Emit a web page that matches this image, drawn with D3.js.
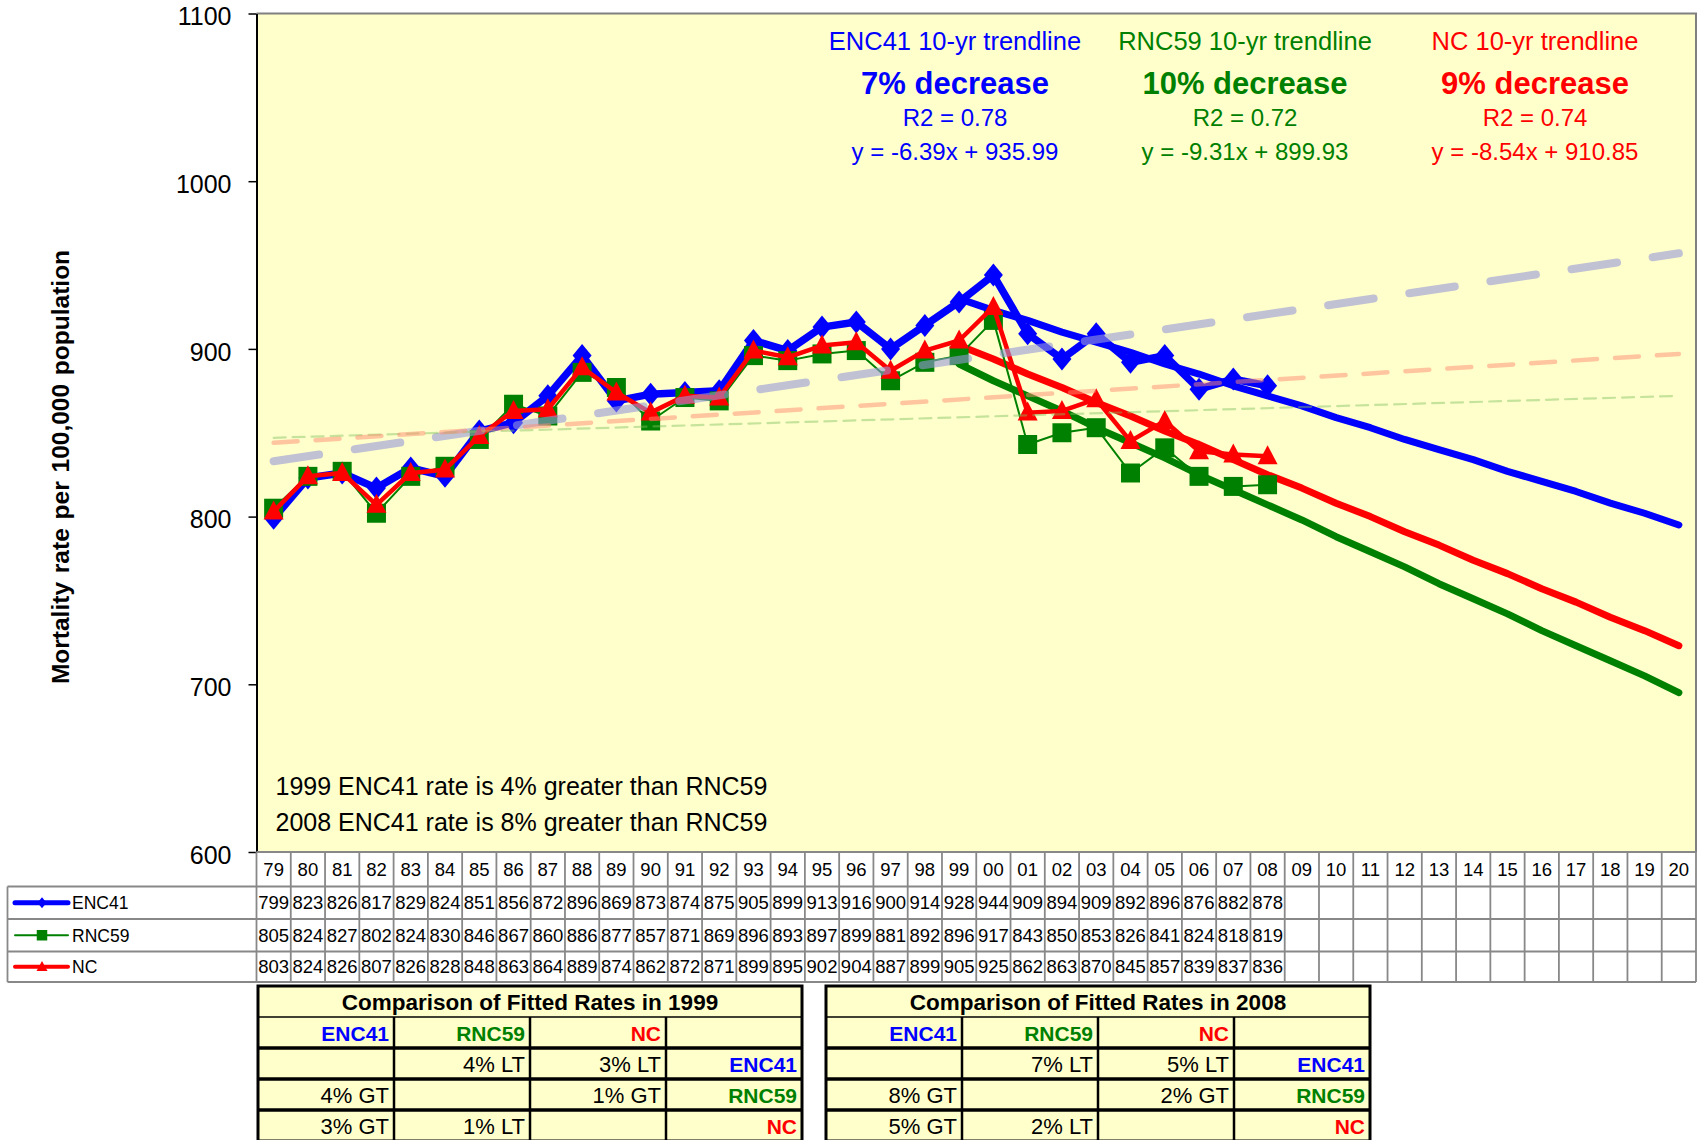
<!DOCTYPE html>
<html>
<head>
<meta charset="utf-8">
<script src="https://cdn.jsdelivr.net/npm/d3@7"></script>
<style>
  body { margin: 0; background: #fff; }
  svg text { font-family: "Liberation Sans", Arial, sans-serif; }
</style>
</head>
<body>
<svg id="chart" width="1700" height="1140"></svg>
<script>
// categories (year, 2 digits)
var years = ["79","80","81","82","83","84","85","86","87","88","89","90","91","92","93","94","95","96","97","98","99",
             "00","01","02","03","04","05","06","07","08","09","10","11","12","13","14","15","16","17","18","19","20"];

// observed rates, 1979-2008
var enc41 = [799,823,826,817,829,824,851,856,872,896,869,873,874,875,905,899,913,916,900,914,928,944,909,894,909,892,896,876,882,878];
var rnc59 = [805,824,827,802,824,830,846,867,860,886,877,857,871,869,896,893,897,899,881,892,896,917,843,850,853,826,841,824,818,819];
var nc    = [803,824,826,807,826,828,848,863,864,889,874,862,872,871,899,895,902,904,887,899,905,925,862,863,870,845,857,839,837,836];

// 10-yr trendlines, 1999-2020
var trendYears = ["99","00","01","02","03","04","05","06","07","08","09","10","11","12","13","14","15","16","17","18","19","20"];
var enc41Trend = [930,923,917,910,904,898,891,885,878,872,866,859,853,846,840,834,827,821,815,808,802,795];
var rnc59Trend = [891,881,872,863,853,844,835,825,816,807,798,788,779,770,760,751,742,732,723,714,705,695];
var ncTrend    = [902,894,885,877,868,860,851,843,834,825,817,808,800,791,783,774,766,757,749,740,732,723];

// long-term trendlines, value at 79 and at 20
var longYears = ["79","20"];
var enc41Long = [833,957];
var rnc59Long = [847,872];
var ncLong    = [844,897];

var yTicks = [600,700,800,900,1000,1100];

var trendLabels = ["ENC41 10-yr trendline","RNC59 10-yr trendline","NC 10-yr trendline"];
var trendChange = ["7% decrease","10% decrease","9% decrease"];
var trendR2     = ["R2 = 0.78","R2 = 0.72","R2 = 0.74"];
var trendEq     = ["y = -6.39x + 935.99","y = -9.31x + 899.93","y = -8.54x + 910.85"];

var notes = ["1999 ENC41 rate is 4% greater than RNC59","2008 ENC41 rate is 8% greater than RNC59"];

var cmpTitles = ["Comparison of Fitted Rates in 1999","Comparison of Fitted Rates in 2008"];
var cmpHeader = ["ENC41","RNC59","NC",""];
var cmp1999 = [["","4% LT","3% LT","ENC41"],["4% GT","","1% GT","RNC59"],["3% GT","1% LT","","NC"]];
var cmp2008 = [["","7% LT","5% LT","ENC41"],["8% GT","","2% GT","RNC59"],["5% GT","2% LT","","NC"]];

var blue = "#0000FF", green = "#008000", red = "#FF0000";
var nameColor = {"ENC41": blue, "RNC59": green, "NC": red};

//marker shapes
function diamond(w, h) { return "M0," + (-h/2) + "L" + (w/2) + ",0L0," + (h/2) + "L" + (-w/2) + ",0Z"; }
function square(s) { return "M" + (-s/2) + "," + (-s/2) + "h" + s + "v" + s + "h" + (-s) + "Z"; }
function triangle(w, h) { return "M0," + (-h*0.58) + "L" + (w/2) + "," + (h*0.42) + "L" + (-w/2) + "," + (h*0.42) + "Z"; }

var series = [
  {name: "ENC41", values: enc41, trend: enc41Trend, long: enc41Long, color: blue,  width: 7.5, marker: diamond(19,23), key: diamond(9,11), keyW: 5},
  {name: "RNC59", values: rnc59, trend: rnc59Trend, long: rnc59Long, color: green, width: 2,   marker: square(19),     key: square(10.5),  keyW: 2},
  {name: "NC",    values: nc,    trend: ncTrend,    long: ncLong,    color: red,   width: 4.5, marker: triangle(20,19), key: triangle(11,10), keyW: 4}
];

var pLeft = 256.5, pRight = 1696, pTop = 13.5, pBottom = 852;

var svg = d3.select("#chart");

var x = d3.scaleBand().domain(years).range([pLeft, pRight]);
var y = d3.scaleLinear().domain([600, 1100]).range([pBottom, pTop]);
function cx(d) { return x(d) + x.bandwidth() / 2; }

//plot area
svg.append("rect")
  .attr("x", pLeft).attr("y", pTop)
  .attr("width", pRight - pLeft).attr("height", pBottom - pTop)
  .attr("fill", "#FFFFCC");
svg.append("path")
  .attr("d", "M" + pLeft + "," + pTop + "H" + pRight + "V" + pBottom)
  .attr("fill", "none").attr("stroke", "#808080").attr("stroke-width", 2);

//y axis
var yAxis = svg.append("g")
  .attr("transform", "translate(" + pLeft + ",0)")
  .call(d3.axisLeft(y).tickValues(yTicks).tickFormat(d3.format("d")).tickSize(8).tickPadding(17).tickSizeOuter(0));
yAxis.select(".domain").attr("stroke", "#000").attr("stroke-width", 2);
yAxis.selectAll(".tick line").attr("stroke", "#000").attr("stroke-width", 1.5);
yAxis.selectAll(".tick text")
  .attr("font-size", "25px").attr("fill", "#000").attr("dy", "0.45em")
  .style("font-family", "'Liberation Sans', Arial, sans-serif");

svg.append("text")
  .attr("transform", "translate(69,467) rotate(-90)")
  .attr("text-anchor", "middle")
  .attr("font-size", "24.5px").attr("font-weight", "bold")
  .attr("word-spacing", "2px")
  .text("Mortality rate per 100,000 population");

var line = d3.line()
  .x(function(d) { return cx(d[0]); })
  .y(function(d) { return y(d[1]); });

//10-yr trendlines
series.forEach(function(s) {
  svg.append("path")
    .attr("d", line(trendYears.map(function(t, i) { return [t, s.trend[i]]; })))
    .attr("fill", "none").attr("stroke", s.color).attr("stroke-width", 7)
    .attr("stroke-linecap", "round").attr("stroke-linejoin", "round");
});

//observed series
series.forEach(function(s) {
  var pts = s.values.map(function(v, i) { return [years[i], v]; });
  svg.append("path")
    .attr("d", line(pts))
    .attr("fill", "none").attr("stroke", s.color).attr("stroke-width", s.width)
    .attr("stroke-linejoin", "round");
  svg.append("g").selectAll("path")
    .data(pts)
    .enter()
    .append("path")
    .attr("d", s.marker)
    .attr("transform", function(d) { return "translate(" + cx(d[0]) + "," + y(d[1]) + ")"; })
    .attr("fill", s.color);
});

//long-term trendlines
var longStyle = [
  {stroke: "#9898D8", opacity: 0.6,  width: 8,   dash: "46,36"},
  {stroke: "#80C060", opacity: 0.45, width: 2.2, dash: "12,7"},
  {stroke: "#FF8C70", opacity: 0.5,  width: 4.5, dash: "24,18"}
];
series.forEach(function(s, k) {
  svg.append("path")
    .attr("d", line(longYears.map(function(t, i) { return [t, s.long[i]]; })))
    .attr("fill", "none")
    .attr("stroke", longStyle[k].stroke)
    .attr("stroke-opacity", longStyle[k].opacity)
    .attr("stroke-width", longStyle[k].width)
    .attr("stroke-dasharray", longStyle[k].dash)
    .attr("stroke-linecap", "round");
});

//trend annotations
var annX = [955, 1245, 1535];
series.forEach(function(s, k) {
  var g = svg.append("g").attr("fill", s.color).attr("text-anchor", "middle");
  g.append("text").attr("x", annX[k]).attr("y", 50).attr("font-size", "25.5px").text(trendLabels[k]);
  g.append("text").attr("x", annX[k]).attr("y", 93.5).attr("font-size", "31px").attr("font-weight", "bold").text(trendChange[k]);
  g.append("text").attr("x", annX[k]).attr("y", 126).attr("font-size", "24px").text(trendR2[k]);
  g.append("text").attr("x", annX[k]).attr("y", 159.5).attr("font-size", "24px").text(trendEq[k]);
});

svg.selectAll(".note")
  .data(notes)
  .enter()
  .append("text")
  .attr("class", "note")
  .attr("x", 275.5)
  .attr("y", function(d, i) { return 795 + i * 35.5; })
  .attr("font-size", "25px")
  .text(function(d) { return d; });

////////////////////////////////////////////
/////////////// Data table ///////////////
////////////////////////////////////////////
var rowTops = [852, 886.5, 919, 951.5, 982];
svg.append("rect")
  .attr("x", 7.5).attr("y", rowTops[1]).attr("width", pRight - 7.5).attr("height", rowTops[4] - rowTops[1])
  .attr("fill", "#fff");
svg.append("rect")
  .attr("x", pLeft).attr("y", rowTops[0]).attr("width", pRight - pLeft).attr("height", rowTops[1] - rowTops[0])
  .attr("fill", "#fff");
var grid = svg.append("g").attr("stroke", "#888").attr("stroke-width", 1.8).attr("fill", "none");
grid.append("line").attr("x1", pLeft).attr("x2", pRight).attr("y1", rowTops[0]).attr("y2", rowTops[0]);
rowTops.slice(1).forEach(function(ty) {
  grid.append("line").attr("x1", 7.5).attr("x2", pRight).attr("y1", ty).attr("y2", ty);
});
grid.append("line").attr("x1", 7.5).attr("x2", 7.5).attr("y1", rowTops[1]).attr("y2", rowTops[4]);
years.forEach(function(yr) {
  grid.append("line").attr("x1", x(yr)).attr("x2", x(yr)).attr("y1", rowTops[0]).attr("y2", rowTops[4]);
});
grid.append("line").attr("x1", pRight).attr("x2", pRight).attr("y1", rowTops[0]).attr("y2", rowTops[4]);

svg.append("g").selectAll("text")
  .data(years)
  .enter()
  .append("text")
  .attr("x", function(d) { return cx(d); })
  .attr("y", (rowTops[0] + rowTops[1]) / 2 + 6.5)
  .attr("text-anchor", "middle").attr("font-size", "18.5px")
  .text(function(d) { return d; });

series.forEach(function(s, k) {
  var mid = (rowTops[k + 1] + rowTops[k + 2]) / 2;
  svg.append("g").selectAll("text")
    .data(s.values)
    .enter()
    .append("text")
    .attr("x", function(d, i) { return cx(years[i]); })
    .attr("y", mid + 6.5)
    .attr("text-anchor", "middle").attr("font-size", "18.5px")
    .text(function(d) { return d; });
  //legend key
  svg.append("line")
    .attr("x1", 15).attr("x2", 68).attr("y1", mid).attr("y2", mid)
    .attr("stroke", s.color).attr("stroke-width", s.keyW).attr("stroke-linecap", "round");
  svg.append("path").attr("d", s.key).attr("transform", "translate(42," + mid + ")").attr("fill", s.color);
  svg.append("text").attr("x", 72).attr("y", mid + 6.3).attr("font-size", "17.5px").text(s.name);
});

////////////////////////////////////////////
/////////// Comparison tables ////////////
////////////////////////////////////////////
function cmpTable(x0, title, rows) {
  var colW = 136, rowH = 31, y0 = 986, n = 5;
  var g = svg.append("g");
  g.append("rect").attr("x", x0).attr("y", y0).attr("width", colW * 4).attr("height", rowH * n)
    .attr("fill", "#FFFFCC").attr("stroke", "#000").attr("stroke-width", 3);
  g.append("line").attr("x1", x0).attr("x2", x0 + colW * 4).attr("y1", y0 + rowH).attr("y2", y0 + rowH)
    .attr("stroke", "#000").attr("stroke-width", 1.5);
  for (var r = 2; r < n; r++) {
    g.append("line").attr("x1", x0).attr("x2", x0 + colW * 4).attr("y1", y0 + rowH * r).attr("y2", y0 + rowH * r)
      .attr("stroke", "#000").attr("stroke-width", 3.5);
  }
  for (var c = 1; c < 4; c++) {
    g.append("line").attr("x1", x0 + colW * c).attr("x2", x0 + colW * c).attr("y1", y0 + rowH).attr("y2", y0 + rowH * n)
      .attr("stroke", "#000").attr("stroke-width", 2.5);
  }
  g.append("text").attr("x", x0 + colW * 2).attr("y", y0 + rowH / 2 + 8)
    .attr("text-anchor", "middle").attr("font-size", "22.5px").attr("font-weight", "bold").text(title);
  [cmpHeader].concat(rows).forEach(function(row, ri) {
    row.forEach(function(cell, ci) {
      if (!cell) return;
      var isName = nameColor[cell] !== undefined;
      g.append("text")
        .attr("x", x0 + colW * (ci + 1) - 5)
        .attr("y", y0 + rowH * (ri + 1) + rowH / 2 + 8)
        .attr("text-anchor", "end")
        .attr("font-size", isName ? "21px" : "22px")
        .attr("font-weight", isName ? "bold" : "normal")
        .attr("fill", isName ? nameColor[cell] : "#000")
        .text(cell);
    });
  });
}
cmpTable(258, cmpTitles[0], cmp1999);
cmpTable(826, cmpTitles[1], cmp2008);
</script>
</body>
</html>
